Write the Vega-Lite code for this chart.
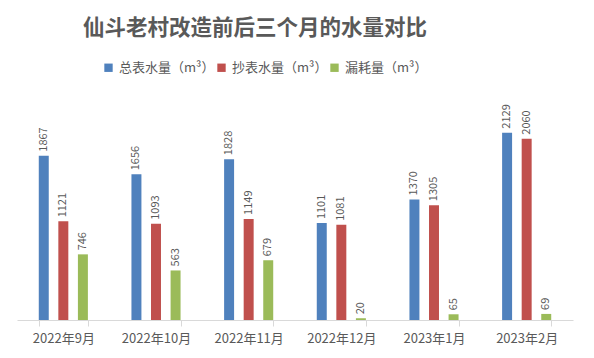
{
  "$schema": "https://vega.github.io/schema/vega-lite/v6.json",
  "autosize": {"type": "none"},
  "width": 556,
  "height": 220,
  "padding": {"left": 17, "top": 100, "right": 21, "bottom": 38},
  "background": "white",
  "title": {
    "text": "仙斗老村改造前后三个月的水量对比",
    "anchor": "start",
    "dx": 66,
    "font": "Noto Sans CJK SC",
    "fontSize": 21.5,
    "fontWeight": "bold",
    "color": "#595959",
    "orient": "top",
    "frame": "group",
    "offset": 22
  },
  "data": {
    "values": [
      {"month": "2022年9月", "series": "总表水量（m³）", "value": 1867},
      {"month": "2022年9月", "series": "抄表水量（m³）", "value": 1121},
      {"month": "2022年9月", "series": "漏耗量（m³）", "value": 746},
      {"month": "2022年10月", "series": "总表水量（m³）", "value": 1656},
      {"month": "2022年10月", "series": "抄表水量（m³）", "value": 1093},
      {"month": "2022年10月", "series": "漏耗量（m³）", "value": 563},
      {"month": "2022年11月", "series": "总表水量（m³）", "value": 1828},
      {"month": "2022年11月", "series": "抄表水量（m³）", "value": 1149},
      {"month": "2022年11月", "series": "漏耗量（m³）", "value": 679},
      {"month": "2022年12月", "series": "总表水量（m³）", "value": 1101},
      {"month": "2022年12月", "series": "抄表水量（m³）", "value": 1081},
      {"month": "2022年12月", "series": "漏耗量（m³）", "value": 20},
      {"month": "2023年1月", "series": "总表水量（m³）", "value": 1370},
      {"month": "2023年1月", "series": "抄表水量（m³）", "value": 1305},
      {"month": "2023年1月", "series": "漏耗量（m³）", "value": 65},
      {"month": "2023年2月", "series": "总表水量（m³）", "value": 2129},
      {"month": "2023年2月", "series": "抄表水量（m³）", "value": 2060},
      {"month": "2023年2月", "series": "漏耗量（m³）", "value": 69}
    ]
  },
  "encoding": {
    "x": {
      "field": "month",
      "type": "nominal",
      "sort": null,
      "scale": {"paddingInner": 0.47, "paddingOuter": 0.235},
      "axis": {
        "title": null,
        "labelAngle": 0,
        "labelFont": "Noto Sans CJK SC",
        "labelFontSize": 13,
        "labelColor": "#595959",
        "labelPadding": 6,
        "domainColor": "#D9D9D9",
        "tickColor": "#D9D9D9",
        "tickBand": "extent",
        "tickSize": 6
      }
    },
    "xOffset": {
      "field": "series",
      "type": "nominal",
      "sort": ["总表水量（m³）", "抄表水量（m³）", "漏耗量（m³）"],
      "scale": {"paddingInner": 0.49, "paddingOuter": 0}
    },
    "y": {
      "field": "value",
      "type": "quantitative",
      "scale": {"domain": [0, 2500]},
      "axis": null
    }
  },
  "layer": [
    {
      "mark": {"type": "bar"},
      "encoding": {
        "color": {
          "field": "series",
          "type": "nominal",
          "sort": ["总表水量（m³）", "抄表水量（m³）", "漏耗量（m³）"],
          "scale": {"range": ["#4F81BD", "#C0504D", "#9BBB59"]},
          "legend": {
            "title": null,
            "orient": "none",
            "direction": "horizontal",
            "legendX": 85,
            "legendY": -39,
            "symbolType": "square",
            "symbolSize": 70,
            "symbolStrokeWidth": 0,
            "labelFont": "Noto Sans CJK SC",
            "labelFontSize": 13,
            "labelColor": "#595959",
            "columnPadding": -8,
            "labelOffset": 4
          }
        }
      }
    },
    {
      "mark": {
        "type": "text",
        "angle": 270,
        "align": "left",
        "baseline": "middle",
        "dx": 4,
        "font": "Noto Sans CJK SC",
        "fontSize": 11,
        "color": "#595959"
      },
      "encoding": {
        "text": {"field": "value", "type": "quantitative"}
      }
    }
  ],
  "config": {
    "view": {"stroke": null}
  }
}
